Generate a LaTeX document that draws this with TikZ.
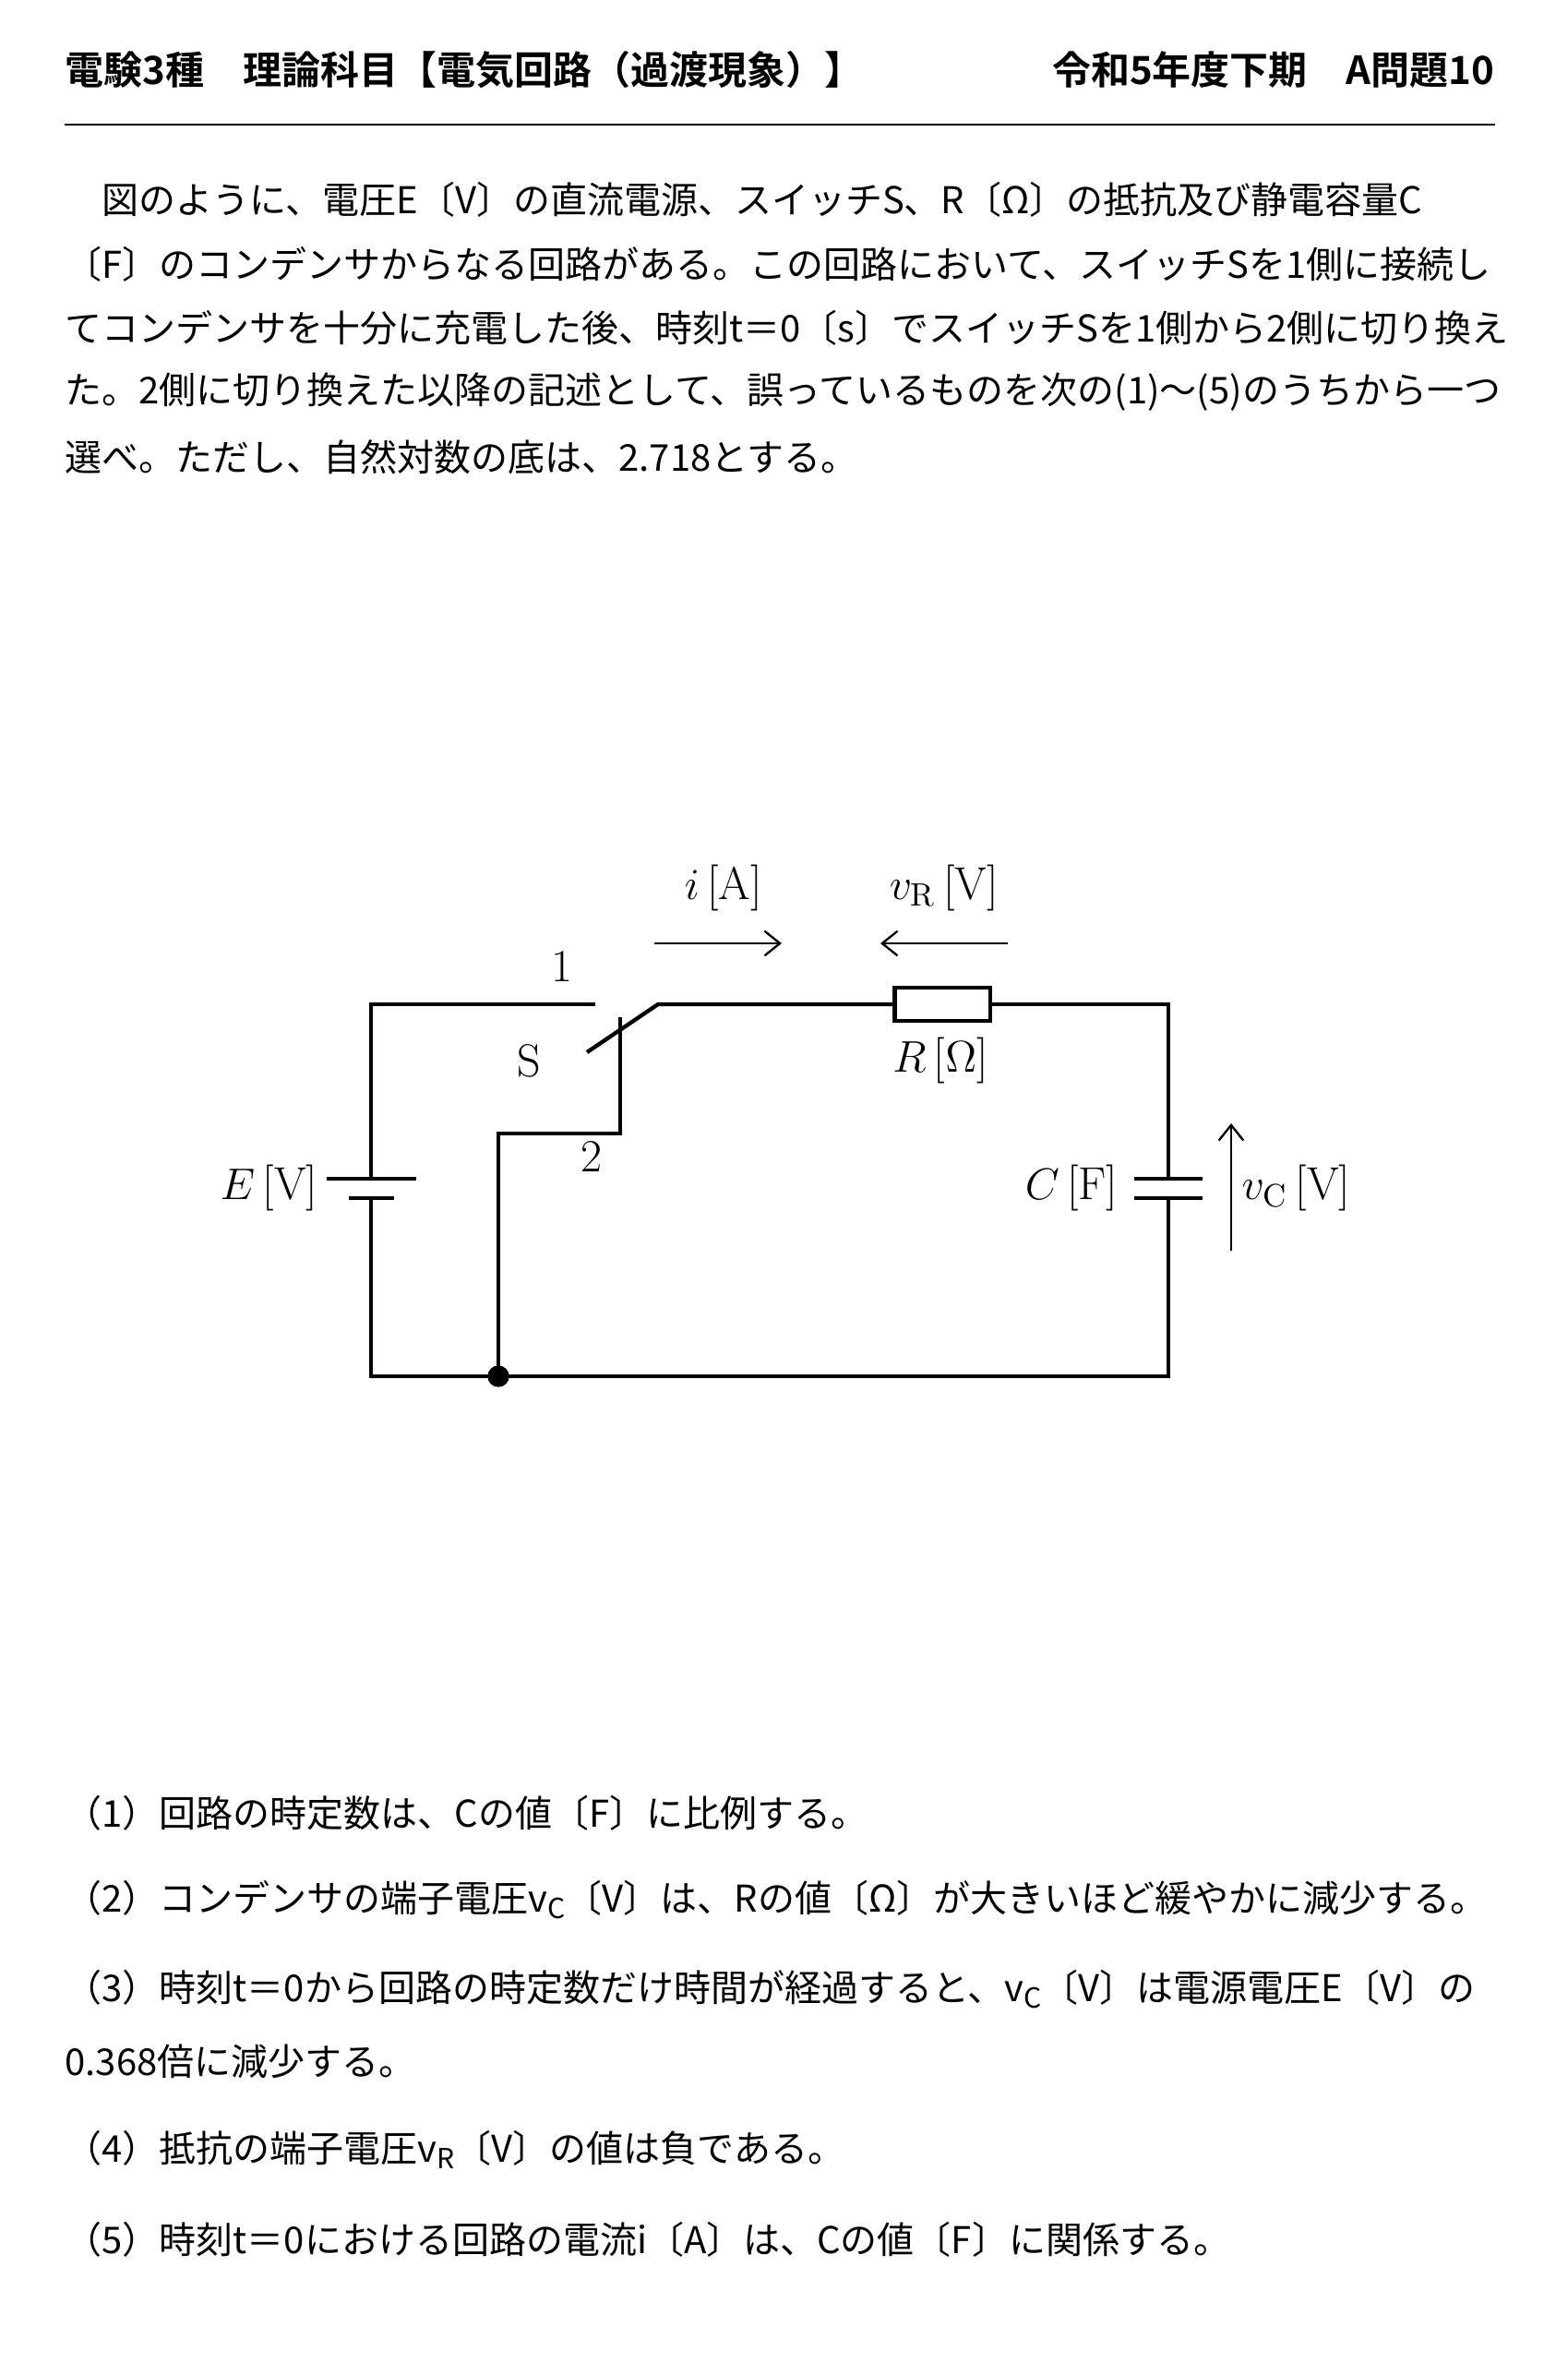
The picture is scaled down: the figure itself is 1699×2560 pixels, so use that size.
\documentclass[tikz,border=0pt]{standalone}
\usetikzlibrary{arrows.meta}
\usepackage{fontspec}
\newfontfamily\jp{Noto Sans CJK JP}
\newfontfamily\jpb{Noto Sans CJK JP Bold}
\newcommand{\sub}[1]{\raisebox{-0.35ex}{\fontsize{9}{9}\selectfont #1}}
\begin{document}
\begin{tikzpicture}[x=0.3pt,y=-0.3pt,
  w/.style={line width=1.3pt},
  txt/.style={anchor=west,inner sep=0,font=\jp\fontsize{12}{14}\selectfont},
  lab/.style={inner sep=0,font=\fontsize{15}{17}\selectfont},
  arr/.style={line width=0.7pt,-{Straight Barb[length=5pt,width=8pt]}}]
\useasboundingbox (0,0) rectangle (1699,2560);
\node[anchor=west,inner sep=0,font=\jpb\fontsize{12.6}{14}\selectfont] (h1) at (70,76) {電験3種　理論科目【電気回路（過渡現象）】};
\node[anchor=east,inner sep=0,font=\jpb\fontsize{12.6}{14}\selectfont] (h2) at (1620,76) {令和5年度下期　A問題10};
\coordinate (r1) at (70,135); \coordinate (r2) at (1620,135);
\draw[line width=0.8pt] (r1) -- (r2);
\node[txt] (t1) at (110,216) {図のように、電圧E〔V〕の直流電源、スイッチS、R〔Ω〕の抵抗及び静電容量C};
\node[txt] (t2) at (70,286) {〔F〕のコンデンサからなる回路がある。この回路において、スイッチSを1側に接続し};
\node[txt] (t3) at (70,355) {てコンデンサを十分に充電した後、時刻t＝0〔s〕でスイッチSを1側から2側に切り換え};
\node[txt] (t4) at (70,425) {た。2側に切り換えた以降の記述として、誤っているものを次の(1)～(5)のうちから一つ};
\node[txt] (t5) at (70,495) {選べ。ただし、自然対数の底は、2.718とする。};
% circuit coordinates
\coordinate (tl) at (402,1088); \coordinate (bl) at (402,1491);
\coordinate (s1) at (645,1088); \coordinate (sp) at (713,1088);
\coordinate (be) at (636,1140);
\coordinate (v1) at (672,1102); \coordinate (v2) at (672,1228);
\coordinate (h2c) at (540,1228);
\coordinate (tr) at (1266,1088); \coordinate (br) at (1266,1491);
\coordinate (bt) at (402,1277); \coordinate (bb) at (402,1298);
\coordinate (ct) at (1266,1277); \coordinate (cb) at (1266,1298);
\node[draw,w,minimum width=31pt,minimum height=10.8pt,inner sep=0] (R) at (1021,1088) {};
\draw[w] (bt) -- (tl) -- (s1);
\draw[w] (bb) -- (bl) -- (br) -- (cb);
\draw[w] (ct) -- (tr) -- (R.east);
\draw[w] (R.west) -- (sp) -- (be);
\draw[w] (v1) -- (v2) -- (h2c) -- (540,1491);
\fill (540,1491) circle (3.5pt) coordinate (dot);
\draw[w] (354,1277) -- (451,1277);
\draw[w] (378,1298) -- (427,1298);
\draw[w] (1229,1277) -- (1303,1277);
\draw[w] (1229,1298) -- (1303,1298);
\coordinate (ia) at (709,1022); \coordinate (ib) at (847,1022);
\coordinate (va) at (1092,1022); \coordinate (vb) at (954,1022);
\coordinate (ca) at (1334,1355); \coordinate (cc) at (1334,1217);
\draw[arr] (ia) -- (ib);
\draw[arr] (va) -- (vb);
\draw[arr] (ca) -- (cc);
\node[lab] (l1) at (609,1047) {1};
\node[lab] (lS) at (573,1149) {S};
\node[lab] (l2) at (641,1253) {2};
\node[lab,anchor=east] (lE) at (345,1287) {$E$\,[V]};
\node[lab,anchor=east] (lC) at (1212,1287) {$C$\,[F]};
\node[lab] (lR) at (1019,1149) {$R$\,[$\Omega$]};
\node[lab] (li) at (784,962) {$i$\,[A]};
\node[lab] (lv) at (1023,962) {$v_{\mathrm{R}}$\,[V]};
\node[lab,anchor=west] (lvc) at (1345,1287) {$v_{\mathrm{C}}$\,[V]};
% options
\node[txt] (o1) at (70,1964) {（1）回路の時定数は、Cの値〔F〕に比例する。};
\node[txt] (o2) at (70,2058) {（2）コンデンサの端子電圧v\sub{C}〔V〕は、Rの値〔Ω〕が大きいほど緩やかに減少する。};
\node[txt] (o3) at (70,2155) {（3）時刻t＝0から回路の時定数だけ時間が経過すると、v\sub{C}〔V〕は電源電圧E〔V〕の};
\node[txt] (o3b) at (70,2233) {0.368倍に減少する。};
\node[txt] (o4) at (70,2329) {（4）抵抗の端子電圧v\sub{R}〔V〕の値は負である。};
\node[txt] (o5) at (70,2426) {（5）時刻t＝0における回路の電流i〔A〕は、Cの値〔F〕に関係する。};
\end{tikzpicture}
\end{document}
